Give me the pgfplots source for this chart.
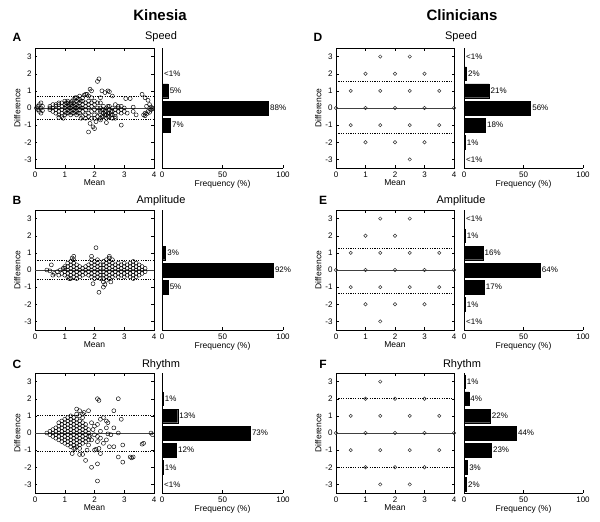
\documentclass[border=0pt]{standalone}
\usepackage{pgfplots}
\pgfplotsset{compat=1.18}
\usepackage{fontspec}
\setmainfont{Liberation Sans}
\begin{document}
\begin{tikzpicture}[x=1pt,y=1pt]
\path[use as bounding box] (0,0) rectangle (600,522);
\pgfplotsset{
  scat/.style={scale only axis, anchor=south west, height=120pt, xmin=0,xmax=4,ymin=-3.5,ymax=3.5,
    xtick={0,...,4}, ytick={-3,...,3}, tick align=inside, major tick length=2.5pt,
    xlabel={Mean}, ylabel={Difference}, clip=false,
    tick label style={font=\fontsize{8}{9}\selectfont},
    label style={font=\fontsize{8.5}{10}\selectfont},
    /pgf/number format/assume math mode=true,
    axis line style={line width=0.7pt}, every tick/.style={black, line width=0.4pt},
    xlabel style={yshift=4pt}, ylabel style={yshift=-3pt}},
  hist/.style={scale only axis, anchor=south west, height=120pt, xmin=0,xmax=100,ymin=-3.5,ymax=3.5,
    axis x line=bottom, axis y line=left, axis line style={-, line width=0.7pt},
    xtick={0,50,100}, ytick=\empty, tick align=inside, major tick length=2.5pt,
    tick label style={font=\fontsize{8}{9}\selectfont},
    label style={font=\fontsize{8.5}{10}\selectfont},
    /pgf/number format/assume math mode=true,
    every tick/.style={black, line width=0.4pt},
    xlabel={Frequency (\%)}, xlabel style={yshift=4pt}, clip=false, xbar, bar width=0.8,
    nodes near coords, point meta=explicit symbolic,
    every node near coord/.style={anchor=west, inner sep=1.5pt, font=\fontsize{8}{9}\selectfont}},
  kin/.style={only marks, mark=o, mark size=2pt, mark options={line width=0.45pt, black}},
  cli/.style={only marks, mark=o, mark size=1.7pt, mark options={line width=0.5pt, black!80}},
  zl/.style={black!75, line width=0.6pt, no marks},
  ll/.style={black, line width=0.5pt, dash pattern=on 1.2pt off 1.2pt, no marks},
  barst/.style={fill=black, draw=black},
}
% ---------- titles ----------
\node[anchor=base, font=\fontsize{15}{17}\selectfont\bfseries] at (160,501) {Kinesia};
\node[anchor=base, font=\fontsize{15}{17}\selectfont\bfseries] at (462,501) {Clinicians};
\node[anchor=base, font=\fontsize{12}{14}\selectfont\bfseries] at (17,480.5) {A};
\node[anchor=base, font=\fontsize{12}{14}\selectfont\bfseries] at (17,317) {B};
\node[anchor=base, font=\fontsize{12}{14}\selectfont\bfseries] at (17,153) {C};
\node[anchor=base, font=\fontsize{12}{14}\selectfont\bfseries] at (318,480.5) {D};
\node[anchor=base, font=\fontsize{12}{14}\selectfont\bfseries] at (323,317) {E};
\node[anchor=base, font=\fontsize{12}{14}\selectfont\bfseries] at (323,153) {F};
\node[anchor=base, font=\fontsize{11}{13}\selectfont] at (161,482) {Speed};
\node[anchor=base, font=\fontsize{11}{13}\selectfont] at (161,318) {Amplitude};
\node[anchor=base, font=\fontsize{11}{13}\selectfont] at (161,154.5) {Rhythm};
\node[anchor=base, font=\fontsize{11}{13}\selectfont] at (461,482) {Speed};
\node[anchor=base, font=\fontsize{11}{13}\selectfont] at (461,318) {Amplitude};
\node[anchor=base, font=\fontsize{11}{13}\selectfont] at (462,154.5) {Rhythm};

% ---------- A scatter ----------
\begin{axis}[scat, at={(35pt,354pt)}, width=119pt]
\addplot[zl] coordinates {(0,0) (4,0)};
\addplot[ll] coordinates {(0,0.68) (4,0.68)};
\addplot[ll] coordinates {(0,-0.67) (4,-0.67)};
\addplot[kin] coordinates {
(0.05,0)(0.1,0.1)(0.1,-0.1)(0.15,0.2)(0.15,-0.2)(0.2,0)(0.2,0.3)(0.2,-0.3)(0.25,-0.15)(0.25,0.1)
(0.5,-0.1)(0.5,0)(0.5,0.1)(0.6,-0.2)(0.6,0)(0.6,0.2)
(0.7,-0.3)(0.7,-0.1)(0.7,0.1)(0.7,0.2)
(0.8,-0.4)(0.8,-0.2)(0.8,0)(0.8,0.2)(0.8,0.3)
(0.9,-0.5)(0.9,-0.3)(0.9,-0.1)(0.9,0.1)(0.9,0.3)
(1.0,-0.4)(1.0,-0.2)(1.0,0)(1.0,0.2)(1.0,0.4)
(1.05,-0.3)(1.05,0.1)(1.05,0.3)
(1.1,-0.3)(1.1,-0.1)(1.1,0.1)(1.1,0.3)(1.1,0.4)
(1.15,-0.2)(1.15,0)(1.15,0.2)
(1.2,-0.4)(1.2,-0.2)(1.2,0)(1.2,0.2)(1.2,0.3)
(1.25,-0.3)(1.25,0.1)(1.25,0.4)
(1.3,-0.3)(1.3,-0.1)(1.3,0.1)(1.3,0.3)(1.3,0.5)
(1.35,-0.2)(1.35,0)(1.35,0.2)(1.35,0.6)
(1.4,-0.4)(1.4,-0.2)(1.4,0)(1.4,0.2)(1.4,0.4)(1.4,0.6)
(1.45,-0.3)(1.45,0.1)(1.45,0.5)
(1.5,-0.3)(1.5,-0.1)(1.5,0.1)(1.5,0.3)(1.5,0.5)(1.5,0.7)
(1.55,-0.6)(1.55,0)(1.55,0.4)
(1.6,-0.5)(1.6,-0.2)(1.6,0)(1.6,0.2)(1.6,0.4)(1.6,0.6)
(1.7,-0.6)(1.7,-0.4)(1.7,-0.1)(1.7,0.1)(1.7,0.3)(1.7,0.8)
(1.8,-0.5)(1.8,-0.3)(1.8,0)(1.8,0.2)(1.8,0.4)(1.8,0.7)
(1.9,-0.6)(1.9,-0.2)(1.9,0.1)(1.9,0.3)(1.9,0.6)
(2.0,-0.4)(2.0,-0.1)(2.0,0.2)(2.0,0.4)
(2.1,-0.5)(2.1,-0.2)(2.1,0)(2.1,0.3)
(2.2,-0.6)(2.2,-0.4)(2.2,-0.2)(2.2,0)(2.2,0.3)
(2.25,-0.5)(2.25,-0.1)
(2.3,-0.5)(2.3,-0.3)(2.3,-0.1)(2.3,0.1)
(2.35,-0.4)(2.35,-0.2)
(2.4,-0.6)(2.4,-0.4)(2.4,-0.2)(2.4,0)
(2.45,-0.5)(2.45,-0.3)(2.45,0.1)
(2.5,-0.5)(2.5,-0.3)(2.5,-0.1)(2.5,0.1)
(2.55,-0.4)(2.55,-0.2)
(2.6,-0.6)(2.6,-0.4)(2.6,-0.2)(2.6,0)
(2.7,-0.5)(2.7,-0.3)(2.7,-0.1)(2.7,0.2)
(2.8,-0.2)(2.8,0)(2.8,0.1)
(2.9,-0.3)(2.9,-0.1)(2.9,0.1)
(3.0,0)(3.0,-0.2)(3.1,-0.3)(3.3,-0.2)(3.3,0.05)(3.4,-0.4)
(3.65,-0.4)(3.7,-0.3)(3.75,-0.35)(3.8,-0.2)(3.85,-0.25)(3.9,-0.1)(3.95,0)(3.9,0.05)(3.85,0.2)(3.75,0.1)(3.8,0.45)(3.7,0.6)(3.6,0.8)(3.95,-0.05)(3.7,-0.45)
(1.85,1.1)(1.9,1.0)(1.75,0.8)(2.1,1.55)(2.15,1.7)(2.25,1.0)(2.35,0.9)(2.45,1.0)(2.5,0.95)(2.2,0.6)(1.65,0.75)(2.6,0.7)(3.05,0.55)(3.2,0.55)
(1.8,-1.4)(1.95,-1.1)(2.0,-1.2)(1.85,-0.9)(2.05,-0.8)(2.2,-0.7)(2.4,-0.85)(2.9,-1.0)(0.95,-0.6)(0.8,-0.55)(2.0,-0.6)(2.7,-0.6)
};
\end{axis}
\begin{axis}[hist, at={(162pt,354pt)}, width=121pt]
\addplot[barst] coordinates {(0.4,2) [<1\%] (5,1) [5\%] (88,0) [88\%] (7,-1) [7\%]};
\end{axis}

% ---------- B scatter ----------
\begin{axis}[scat, at={(35pt,192pt)}, width=119pt]
\addplot[zl] coordinates {(0,0) (4,0)};
\addplot[ll] coordinates {(0,0.57) (4,0.57)};
\addplot[ll] coordinates {(0,-0.54) (4,-0.54)};
\addplot[kin] coordinates {
(0.4,0)(0.5,-0.05)(0.55,0.3)(0.6,-0.3)(0.65,-0.2)(0.75,-0.1)(0.8,-0.3)(0.85,0)(0.9,-0.2)(0.95,0.1)
(1.0,-0.3)(1.0,-0.1)(1.0,0.1)(1.0,0.2)
(1.1,-0.4)(1.1,-0.2)(1.1,0)(1.1,0.2)(1.1,0.4)
(1.2,-0.5)(1.2,-0.3)(1.2,-0.1)(1.2,0.1)(1.2,0.3)(1.2,0.5)
(1.3,-0.4)(1.3,-0.2)(1.3,0)(1.3,0.2)(1.3,0.4)(1.3,0.6)
(1.4,-0.5)(1.4,-0.3)(1.4,-0.1)(1.4,0.1)(1.4,0.3)
(1.5,-0.4)(1.5,-0.2)(1.5,0)(1.5,0.2)
(1.6,-0.3)(1.6,-0.1)(1.6,0.1)
(1.7,-0.2)(1.7,0)(1.7,0.2)
(1.8,-0.3)(1.8,-0.1)(1.8,0.1)(1.8,0.3)
(1.9,-0.4)(1.9,-0.2)(1.9,0)(1.9,0.2)(1.9,0.4)(1.9,0.6)
(2.0,-0.5)(2.0,-0.3)(2.0,-0.1)(2.0,0.1)(2.0,0.3)(2.0,0.5)
(2.1,-0.4)(2.1,-0.2)(2.1,0)(2.1,0.2)(2.1,0.4)(2.1,0.6)
(2.2,-0.5)(2.2,-0.3)(2.2,-0.1)(2.2,0.1)(2.2,0.3)
(2.3,-0.7)(2.3,-0.5)(2.3,-0.3)(2.3,-0.1)(2.3,0.1)(2.3,0.3)(2.3,0.5)
(2.4,-0.6)(2.4,-0.4)(2.4,-0.2)(2.4,0)(2.4,0.2)(2.4,0.4)(2.4,0.6)
(2.5,-0.5)(2.5,-0.3)(2.5,-0.1)(2.5,0.1)(2.5,0.3)(2.5,0.5)(2.5,0.7)
(2.6,-0.4)(2.6,-0.2)(2.6,0)(2.6,0.2)(2.6,0.4)(2.6,0.6)
(2.7,-0.3)(2.7,-0.1)(2.7,0.1)(2.7,0.3)
(2.8,-0.4)(2.8,-0.2)(2.8,0)(2.8,0.2)(2.8,0.4)
(2.9,-0.3)(2.9,-0.1)(2.9,0.1)(2.9,0.3)
(3.0,-0.4)(3.0,-0.2)(3.0,0)(3.0,0.2)(3.0,0.4)
(3.1,-0.3)(3.1,-0.1)(3.1,0.1)(3.1,0.3)
(3.2,-0.4)(3.2,-0.2)(3.2,0)(3.2,0.2)(3.2,0.4)
(3.3,-0.5)(3.3,-0.3)(3.3,-0.1)(3.3,0.1)(3.3,0.3)(3.3,0.5)
(3.4,-0.4)(3.4,-0.2)(3.4,0)(3.4,0.2)(3.4,0.4)
(3.5,-0.3)(3.5,-0.1)(3.5,0.1)(3.5,0.3)
(3.6,-0.2)(3.6,0)(3.6,0.2)(3.7,-0.1)(3.7,0.1)
(2.05,1.3)(1.9,0.8)(2.5,0.8)(1.3,0.8)(1.25,0.7)
(2.15,-1.3)(2.3,-1.0)(1.95,-0.8)(2.35,-0.85)(1.15,-0.5)(2.55,-0.7)
};
\end{axis}
\begin{axis}[hist, at={(162pt,192pt)}, width=121pt]
\addplot[barst] coordinates {(3,1) [3\%] (92,0) [92\%] (5,-1) [5\%]};
\end{axis}

% ---------- C scatter ----------
\begin{axis}[scat, at={(35pt,29pt)}, width=119pt]
\addplot[zl] coordinates {(0,0) (4,0)};
\addplot[ll] coordinates {(0,1.04) (4,1.04)};
\addplot[ll] coordinates {(0,-1.04) (4,-1.04)};
\addplot[kin] coordinates {
(0.4,0)(0.5,-0.1)(0.5,0.1)(0.6,-0.2)(0.6,0)(0.6,0.2)
(0.7,-0.3)(0.7,-0.1)(0.7,0.1)(0.7,0.3)
(0.8,-0.4)(0.8,-0.2)(0.8,0)(0.8,0.2)(0.8,0.4)(0.8,0.6)
(0.9,-0.5)(0.9,-0.3)(0.9,-0.1)(0.9,0.1)(0.9,0.3)(0.9,0.5)(0.9,0.7)
(1.0,-0.6)(1.0,-0.4)(1.0,-0.2)(1.0,0)(1.0,0.2)(1.0,0.4)(1.0,0.6)(1.0,0.8)
(1.1,-0.7)(1.1,-0.5)(1.1,-0.3)(1.1,-0.1)(1.1,0.1)(1.1,0.3)(1.1,0.5)(1.1,0.7)(1.1,0.9)
(1.2,-0.8)(1.2,-0.6)(1.2,-0.4)(1.2,-0.2)(1.2,0)(1.2,0.2)(1.2,0.4)(1.2,0.6)(1.2,0.8)(1.2,1.0)
(1.3,-0.9)(1.3,-0.7)(1.3,-0.5)(1.3,-0.3)(1.3,-0.1)(1.3,0.1)(1.3,0.3)(1.3,0.5)(1.3,0.7)(1.3,0.9)
(1.4,-0.8)(1.4,-0.6)(1.4,-0.4)(1.4,-0.2)(1.4,0)(1.4,0.2)(1.4,0.4)(1.4,0.6)(1.4,0.8)(1.4,1.1)
(1.5,-0.9)(1.5,-0.7)(1.5,-0.5)(1.5,-0.3)(1.5,-0.1)(1.5,0.1)(1.5,0.3)(1.5,0.5)(1.5,0.7)(1.5,1.0)
(1.6,-0.6)(1.6,-0.4)(1.6,-0.2)(1.6,0)(1.6,0.2)(1.6,0.4)(1.6,0.6)(1.6,0.9)
(1.7,-0.5)(1.7,-0.3)(1.7,-0.1)(1.7,0.1)(1.7,0.3)(1.7,0.5)
(1.8,-0.4)(1.8,-0.2)(1.8,0)(1.8,0.2)
(2.1,2.0)(2.15,1.9)(2.8,2.0)(2.65,1.3)(2.9,0.8)(2.4,0.7)(2.45,0.6)(2.3,0.9)(2.2,0.8)(2.1,0.5)(2.0,0.4)(1.9,0.6)
(1.8,1.3)(1.65,1.2)(1.6,1.1)(1.5,1.3)(1.4,1.4)(2.65,0.3)(2.4,0.3)(2.8,0.0)(2.55,-0.1)(2.4,-0.4)(2.2,-0.3)(2.1,-0.2)
(2.3,-0.6)(2.5,-0.8)(2.65,-0.8)(2.95,-0.7)(3.6,-0.65)(3.65,-0.6)(3.95,-0.1)(3.9,0.0)
(2.8,-1.4)(2.95,-1.7)(3.2,-1.4)(3.25,-1.45)(3.3,-1.4)(2.1,-1.8)(1.9,-2.0)(2.1,-2.8)(1.7,-1.6)(1.6,-1.25)(1.5,-1.25)
(2.0,-1.0)(2.05,-0.95)(2.15,-0.9)(2.2,-1.2)(1.8,-0.7)(1.75,-1.0)(1.35,-0.9)(1.25,-1.2)(2.1,-0.5)(1.9,-0.4)(1.85,-0.2)(1.95,0.2)(2.0,-0.1)(2.2,0.1)(2.45,-0.05)
};
\end{axis}
\begin{axis}[hist, at={(162pt,29pt)}, width=121pt]
\addplot[barst] coordinates {(1,2) [1\%] (13,1) [13\%] (73,0) [73\%] (12,-1) [12\%] (1,-2) [1\%] (0.4,-3) [<1\%]};
\end{axis}

% ---------- D scatter ----------
\begin{axis}[scat, at={(336pt,354pt)}, width=118pt]
\addplot[zl] coordinates {(0,0) (4,0)};
\addplot[ll] coordinates {(0,1.55) (4,1.55)};
\addplot[ll] coordinates {(0,-1.5) (4,-1.5)};
\addplot[cli] coordinates {(1.5,3)(2.5,3)(1,2)(2,2)(3,2)(0.5,1)(1.5,1)(2.5,1)(3.5,1)
(0,0)(1,0)(2,0)(3,0)(4,0)(0.5,-1)(1.5,-1)(2.5,-1)(3.5,-1)(1,-2)(2,-2)(3,-2)(2.5,-3)};
\end{axis}
\begin{axis}[hist, at={(464pt,354pt)}, width=119pt]
\addplot[barst] coordinates {(0.4,3) [<1\%] (2,2) [2\%] (21,1) [21\%] (56,0) [56\%] (18,-1) [18\%] (1,-2) [1\%] (0.4,-3) [<1\%]};
\end{axis}

% ---------- E scatter ----------
\begin{axis}[scat, at={(336pt,192pt)}, width=118pt]
\addplot[zl] coordinates {(0,0) (4,0)};
\addplot[ll] coordinates {(0,1.27) (4,1.27)};
\addplot[ll] coordinates {(0,-1.37) (4,-1.37)};
\addplot[cli] coordinates {(1.5,3)(2.5,3)(1,2)(2,2)(0.5,1)(1.5,1)(2.5,1)(3.5,1)
(0,0)(1,0)(2,0)(3,0)(4,0)(0.5,-1)(1.5,-1)(2.5,-1)(3.5,-1)(1,-2)(2,-2)(3,-2)(1.5,-3)};
\end{axis}
\begin{axis}[hist, at={(464pt,192pt)}, width=119pt]
\addplot[barst] coordinates {(0.4,3) [<1\%] (1,2) [1\%] (16,1) [16\%] (64,0) [64\%] (17,-1) [17\%] (1,-2) [1\%] (0.4,-3) [<1\%]};
\end{axis}

% ---------- F scatter ----------
\begin{axis}[scat, at={(336pt,29pt)}, width=118pt]
\addplot[zl] coordinates {(0,0) (4,0)};
\addplot[ll] coordinates {(0,2) (4,2)};
\addplot[ll] coordinates {(0,-2) (4,-2)};
\addplot[cli] coordinates {(1.5,3)(1,2)(2,2)(3,2)(0.5,1)(1.5,1)(2.5,1)(3.5,1)
(0,0)(1,0)(2,0)(3,0)(4,0)(0.5,-1)(1.5,-1)(2.5,-1)(3.5,-1)(1,-2)(2,-2)(3,-2)(1.5,-3)(2.5,-3)};
\end{axis}
\begin{axis}[hist, at={(464pt,29pt)}, width=119pt]
\addplot[barst] coordinates {(1,3) [1\%] (4,2) [4\%] (22,1) [22\%] (44,0) [44\%] (23,-1) [23\%] (3,-2) [3\%] (2,-3) [2\%]};
\end{axis}
\end{tikzpicture}
\end{document}
